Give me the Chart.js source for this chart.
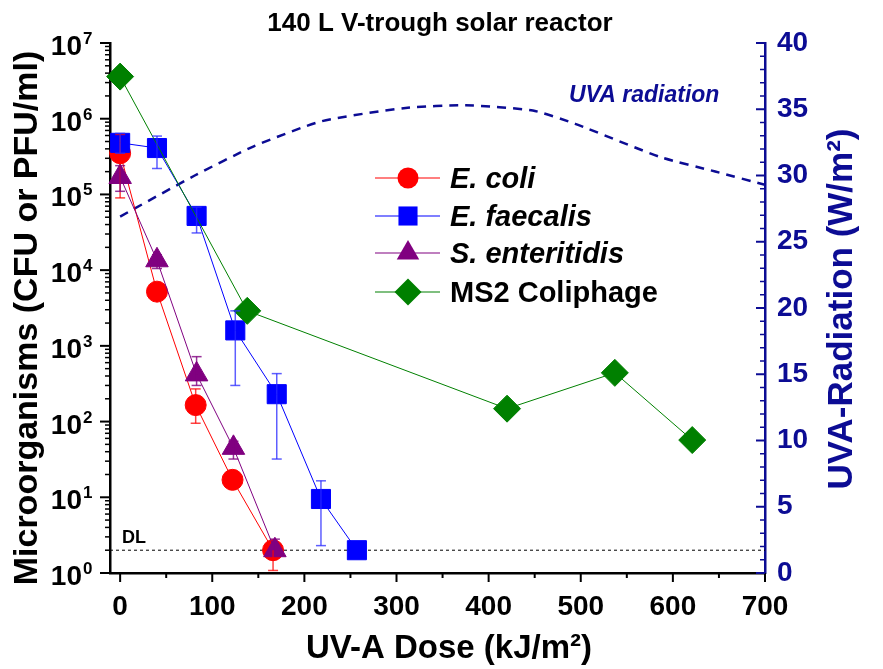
<!DOCTYPE html>
<html>
<head>
<meta charset="utf-8">
<script src="https://cdn.jsdelivr.net/npm/chart.js"></script>
<style>
  body { margin: 0; background: #fff; }
  canvas { display: block; }
</style>
</head>
<body>
<canvas id="grafico" width="883" height="669"></canvas>
<script>
var fonte = "'Liberation Sans', Arial, sans-serif"
var azulEscuro = '#0c0c94'

// dados (dose UV-A em kJ/m2, log CFU ou PFU/ml)
var ecoliX = [0, 40, 82, 122, 166]
var ecoliY = [3.5e5, 5.2e3, 165, 17, 2]
var ecoliLo = [9e4, null, 95, null, 1.08]
var ecoliHi = [6.2e5, null, 270, null, null]

var faecalisX = [0, 40, 83, 125, 170, 218, 257]
var faecalisY = [4.8e5, 4.1e5, 5.2e4, 1.6e3, 230, 9.5, 2]
var faecalisLo = [3.5e5, 2.2e5, 3.1e4, 300, 32, 2.3, null]
var faecalisHi = [6.4e5, 5.9e5, 6.8e4, 2.9e3, 430, 16.5, null]

var salmX = [0, 40, 83, 123, 168]
var salmY = [1.7e5, 1.35e4, 420, 45, 2]
var salmLo = [1.1e5, 1.05e4, 300, 32, null]
var salmHi = [2.4e5, 1.6e4, 720, 55, 2.8]

var ms2X = [0, 138, 420, 537, 621]
var ms2Y = [3.6e6, 2.9e3, 148, 440, 57]

// radiacao UVA (W/m2), eixo da direita
var uvaX = [0, 81, 145, 219, 310, 375, 448, 494, 586, 646, 700]
var uvaY = [26.9, 30.0, 32.2, 34.1, 35.1, 35.3, 34.9, 33.9, 31.4, 30.3, 29.3]

// limite de deteccao
var dlX = [-11, 700]
var dlY = [2, 2]

// rotulos dos eixos
var xTicks = [0, 100, 200, 300, 400, 500, 600, 700]
var uvaTicks = [0, 5, 10, 15, 20, 25, 30, 35, 40]

var nomes = ['E. coli', 'E. faecalis', 'S. enteritidis', 'MS2 Coliphage']
var cores = ['#ff0000', '#0000ff', '#800080', '#008000']

function pontos(xs, ys) {
  return xs.map(function (x, i) { return { x: x, y: ys[i] } })
}

function serie(i, xs, ys, estilo, raio, ordem) {
  return {
    label: nomes[i],
    data: pontos(xs, ys),
    yAxisID: 'y',
    borderColor: cores[i],
    backgroundColor: cores[i],
    borderWidth: 1,
    pointStyle: estilo,
    pointRadius: raio,
    pointBorderWidth: 1,
    tension: 0,
    clip: false,
    order: ordem
  }
}

function marcador(ctx, estilo, x, y, r, cor) {
  ctx.fillStyle = cor
  ctx.beginPath()
  if (estilo == 'circle') {
    ctx.arc(x, y, r, 0, Math.PI * 2)
  } else if (estilo == 'rect') {
    var s = r * Math.SQRT1_2
    ctx.rect(x - s, y - s, 2 * s, 2 * s)
  } else if (estilo == 'triangle') {
    ctx.moveTo(x, y - r)
    ctx.lineTo(x + r * Math.sin(2 * Math.PI / 3), y - r * Math.cos(2 * Math.PI / 3))
    ctx.lineTo(x + r * Math.sin(4 * Math.PI / 3), y - r * Math.cos(4 * Math.PI / 3))
    ctx.closePath()
  } else {
    ctx.moveTo(x, y - r)
    ctx.lineTo(x + r, y)
    ctx.lineTo(x, y + r)
    ctx.lineTo(x - r, y)
    ctx.closePath()
  }
  ctx.fill()
}

function linha(ctx, x1, y1, x2, y2) {
  ctx.beginPath()
  ctx.moveTo(x1, y1)
  ctx.lineTo(x2, y2)
  ctx.stroke()
}

var enfeites = {
  id: 'enfeites',
  afterDatasetsDraw: function (chart) {
    var ctx = chart.ctx
    var sx = chart.scales.x, sy = chart.scales.y
    // [x, valor, baixo, alto, cor]
    var barras = [
      [ecoliX, ecoliY, ecoliLo, ecoliHi, 'rgba(255,0,0,0.75)'],
      [faecalisX, faecalisY, faecalisLo, faecalisHi, 'rgba(40,40,255,0.75)'],
      [salmX, salmY, salmLo, salmHi, 'rgba(128,0,128,0.8)']
    ]
    ctx.save()
    ctx.lineWidth = 1.5
    barras.forEach(function (b) {
      ctx.strokeStyle = b[4]
      b[0].forEach(function (x, i) {
        var px = sx.getPixelForValue(x)
        var pv = sy.getPixelForValue(b[1][i])
        if (b[2][i] != null) {
          var lo = sy.getPixelForValue(b[2][i])
          linha(ctx, px, pv, px, lo)
          linha(ctx, px - 5, lo, px + 5, lo)
        }
        if (b[3][i] != null) {
          var hi = sy.getPixelForValue(b[3][i])
          linha(ctx, px, pv, px, hi)
          linha(ctx, px - 5, hi, px + 5, hi)
        }
      })
    })
    ctx.restore()
  },
  afterDraw: function (chart) {
    var ctx = chart.ctx, a = chart.chartArea
    var sx = chart.scales.x, sy = chart.scales.y, sy2 = chart.scales.y2
    ctx.save()

    // tracinhos dos eixos
    ctx.lineWidth = 2
    ctx.strokeStyle = '#000'
    for (var v = 0; v <= 700; v += 50) {
      var px = sx.getPixelForValue(v)
      linha(ctx, px, a.bottom, px, a.bottom + (v % 100 === 0 ? 9 : 5))
    }
    ctx.fillStyle = '#000'
    for (var k = 0; k <= 7; k++) {
      var py = sy.getPixelForValue(Math.pow(10, k))
      ctx.lineWidth = 2
      linha(ctx, a.left, py, a.left - 10, py)
      if (k < 7) {
        ctx.lineWidth = 1.5
        for (var m = 2; m <= 9; m++) {
          var pm = sy.getPixelForValue(m * Math.pow(10, k))
          linha(ctx, a.left, pm, a.left - 5, pm)
        }
      }
      ctx.textAlign = 'right'
      ctx.font = 'bold 28px ' + fonte
      ctx.fillText('10', 82, py + 12)
      ctx.textAlign = 'left'
      ctx.font = 'bold 17px ' + fonte
      ctx.fillText(String(k), 83, py + 1)
    }
    ctx.strokeStyle = azulEscuro
    for (var u = 0; u <= 40; u++) {
      var pu = sy2.getPixelForValue(u)
      ctx.lineWidth = u % 5 === 0 ? 2 : 1.5
      linha(ctx, a.right, pu, a.right - (u % 5 === 0 ? 9 : 5), pu)
    }

    // titulos
    ctx.fillStyle = '#000'
    ctx.textAlign = 'center'
    ctx.font = 'bold 26px ' + fonte
    ctx.fillText('140 L V-trough solar reactor', 440, 31)
    ctx.font = 'bold 33px ' + fonte
    ctx.fillText('UV-A Dose (kJ/m²)', 449, 658)

    ctx.save()
    ctx.translate(37, 318)
    ctx.rotate(-Math.PI / 2)
    ctx.font = 'bold 34px ' + fonte
    ctx.fillText('Microorganisms (CFU or PFU/ml)', 0, 0)
    ctx.restore()

    ctx.save()
    ctx.translate(852, 309)
    ctx.rotate(-Math.PI / 2)
    ctx.fillStyle = azulEscuro
    ctx.font = 'bold 35px ' + fonte
    ctx.fillText('UVA-Radiation (W/m²)', 0, 0)
    ctx.restore()

    ctx.textAlign = 'left'
    ctx.fillStyle = azulEscuro
    ctx.font = 'italic bold 23px ' + fonte
    ctx.fillText('UVA radiation', 569, 102)

    ctx.fillStyle = '#000'
    ctx.font = 'bold 18px ' + fonte
    ctx.fillText('DL', 122, 543)

    // legenda
    var estilos = ['circle', 'rect', 'triangle', 'rectRot']
    var raios = [10.5, 13.5, 13, 13.5]
    var linhasY = [178, 216, 253, 292]
    for (var i = 0; i < 4; i++) {
      ctx.strokeStyle = cores[i]
      ctx.lineWidth = 1.2
      linha(ctx, 375, linhasY[i], 440, linhasY[i])
      marcador(ctx, estilos[i], 408, linhasY[i], raios[i], cores[i])
      ctx.fillStyle = '#000'
      ctx.font = (i < 3 ? 'italic ' : '') + 'bold 29px ' + fonte
      ctx.fillText(nomes[i], 450, linhasY[i] + 10)
    }
    ctx.restore()
  }
}

var ctxGrafico = document.getElementById('grafico').getContext('2d')
var grafico = new Chart(ctxGrafico, {
  type: 'line',
  data: {
    datasets: [
      serie(0, ecoliX, ecoliY, 'circle', 10.5, 4),
      serie(1, faecalisX, faecalisY, 'rect', 13.5, 3),
      serie(2, salmX, salmY, 'triangle', 13, 2),
      serie(3, ms2X, ms2Y, 'rectRot', 13.5, 1),
      {
        label: 'UVA radiation',
        data: pontos(uvaX, uvaY),
        yAxisID: 'y2',
        borderColor: azulEscuro,
        borderWidth: 2.5,
        borderDash: [9, 7],
        pointRadius: 0,
        tension: 0.2,
        order: 5
      },
      {
        label: 'DL',
        data: pontos(dlX, dlY),
        yAxisID: 'y',
        borderColor: '#000',
        borderWidth: 1,
        borderDash: [3, 3],
        pointRadius: 0,
        order: 6
      }
    ]
  },
  options: {
    responsive: false,
    animation: false,
    layout: { padding: { top: 43, left: 0, right: 0, bottom: 0 } },
    plugins: {
      legend: { display: false },
      title: { display: false },
      tooltip: { enabled: false }
    },
    scales: {
      x: {
        type: 'linear',
        position: 'bottom',
        min: -11,
        max: 700,
        grid: { display: false, drawTicks: false },
        border: { display: true, color: '#000', width: 2.5 },
        ticks: {
          padding: 17,
          color: '#000',
          font: { family: fonte, size: 28, weight: 'bold' },
          callback: function (v) { return String(v) }
        },
        afterBuildTicks: function (s) {
          s.ticks = xTicks.map(function (v) { return { value: v } })
        },
        afterFit: function (s) { s.height = 96 }
      },
      y: {
        type: 'logarithmic',
        position: 'left',
        min: 1,
        max: 1e7,
        grid: { display: false, drawTicks: false },
        border: { display: true, color: '#000', width: 2.5 },
        ticks: { display: false },
        afterFit: function (s) { s.width = 110 }
      },
      y2: {
        type: 'linear',
        position: 'right',
        min: 0,
        max: 40,
        grid: { display: false, drawTicks: false },
        border: { display: true, color: azulEscuro, width: 2.5 },
        ticks: {
          padding: 12,
          color: azulEscuro,
          font: { family: fonte, size: 28, weight: 'bold' }
        },
        afterBuildTicks: function (s) {
          s.ticks = uvaTicks.map(function (v) { return { value: v } })
        },
        afterFit: function (s) { s.width = 118 }
      }
    }
  },
  plugins: [enfeites]
})
</script>
</body>
</html>
